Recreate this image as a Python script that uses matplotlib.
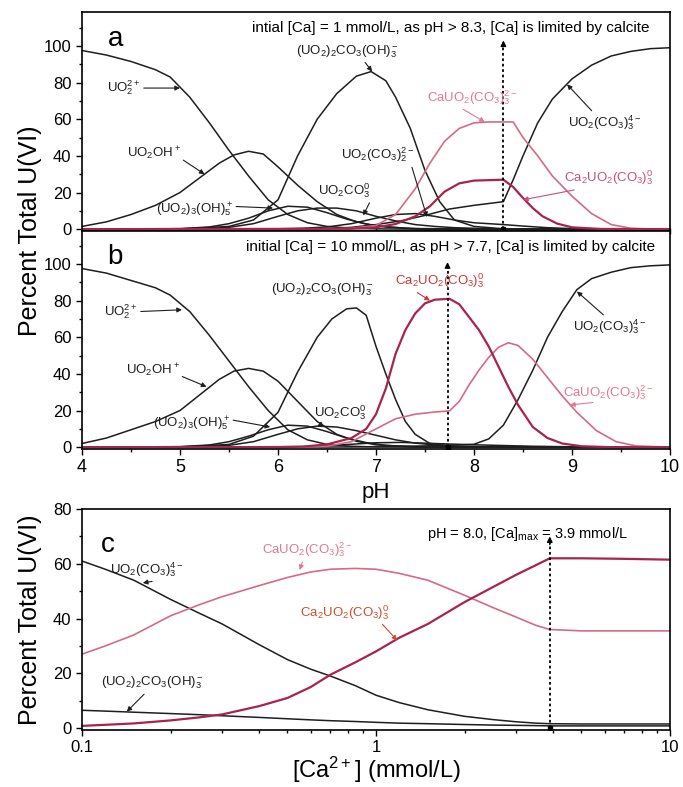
import numpy as np
import matplotlib
matplotlib.use('Agg')
import matplotlib.pyplot as plt
from matplotlib.ticker import MultipleLocator, FixedLocator, NullFormatter, LogLocator

plt.rcParams['font.family'] = ['Liberation Sans', 'DejaVu Sans']
plt.rcParams['mathtext.fontset'] = 'custom'
plt.rcParams['mathtext.rm'] = 'Liberation Sans'
plt.rcParams['mathtext.it'] = 'Liberation Sans:italic'
plt.rcParams['mathtext.bf'] = 'Liberation Sans:bold'

# ---- panel a: initial [Ca] = 1 mmol/L (pH, percent) ----
uo2_a_ph = [4.0, 4.25, 4.5, 4.75, 4.9, 5.1, 5.3, 5.5, 5.7, 5.9, 6.1, 6.3, 6.5, 6.75, 7.0, 7.5, 10]
uo2_a = [97.5, 95, 91.5, 87, 83, 72, 58, 43, 29, 16, 8, 3.5, 1.5, 0.5, 0.15, 0, 0]
uo2oh_a_ph = [4.0, 4.25, 4.5, 4.75, 5.0, 5.2, 5.4, 5.55, 5.7, 5.85, 6.0, 6.2, 6.4, 6.6, 6.8, 7.0, 7.3, 7.6, 10]
uo2oh_a = [1.5, 4, 8, 13, 20, 28, 36, 40.5, 42.5, 41, 34, 24, 15, 8, 4, 1.8, 0.5, 0, 0]
uo23oh5_a_ph = [4.0, 5.0, 5.3, 5.5, 5.7, 5.9, 6.1, 6.3, 6.5, 6.7, 6.9, 7.1, 7.4, 10]
uo23oh5_a = [0, 0.3, 1.2, 3, 6, 10, 12.5, 12, 9, 5.5, 2.8, 1.2, 0.3, 0]
uo22co3oh3_a_ph = [4.0, 5.0, 5.5, 5.75, 6.0, 6.2, 6.4, 6.6, 6.8, 6.95, 7.1, 7.2, 7.35, 7.5, 7.65, 7.8, 8.0, 8.3, 10]
uo22co3oh3_a = [0, 0.1, 1.5, 5, 16, 40, 60, 74, 83.5, 86, 81, 72, 55, 32, 15, 5, 1.5, 0.2, 0]
uo2co3_a_ph = [4.0, 5.25, 5.5, 5.75, 6.0, 6.2, 6.4, 6.6, 6.8, 7.0, 7.2, 7.4, 7.6, 7.8, 8.1, 8.5, 10]
uo2co3_a = [0, 0.3, 1, 3, 7, 10, 11.5, 11.5, 10, 7, 4.5, 2.5, 1.5, 0.8, 0.3, 0, 0]
uo2co32_a_ph = [4.0, 6.0, 6.25, 6.5, 6.75, 7.0, 7.2, 7.4, 7.6, 7.8, 8.0, 8.3, 8.5, 8.75, 9.0, 9.5, 10]
uo2co32_a = [0, 0.2, 0.5, 1.2, 3, 6, 8, 8.5, 7, 5, 3.5, 2.5, 1.7, 0.8, 0.3, 0, 0]
uo2co33_a_ph = [4.0, 6.25, 6.5, 6.75, 7.0, 7.25, 7.5, 7.75, 8.0, 8.3, 8.4, 8.5, 8.65, 8.8, 9.0, 9.2, 9.4, 9.6, 9.8, 10]
uo2co33_a = [0, 0.1, 0.3, 1, 2.5, 4.5, 7.5, 11, 13, 15, 27, 40, 58, 71, 82, 89.5, 94.5, 97, 98.5, 99]
cauo2_a_ph = [4.0, 6.5, 6.75, 7.0, 7.2, 7.4, 7.55, 7.7, 7.85, 8.0, 8.15, 8.4, 8.5, 8.65, 8.8, 9.0, 9.2, 9.4, 9.6, 9.8, 10]
cauo2_a = [0, 0.1, 0.5, 2, 8, 22, 36, 48, 55, 58, 58.5, 58.5, 50, 40, 29, 18, 8.5, 2.5, 0.5, 0.1, 0]
ca2uo2_a_ph = [4.0, 6.75, 7.0, 7.2, 7.4, 7.55, 7.7, 7.85, 8.0, 8.3, 8.4, 8.5, 8.6, 8.7, 8.85, 9.0, 9.3, 10]
ca2uo2_a = [0, 0.2, 1, 2.8, 7, 12.5, 20.5, 25, 26.5, 27, 23, 17, 11.5, 7, 3, 1, 0.1, 0]

# ---- panel b: initial [Ca] = 10 mmol/L ----
uo2_b_ph = [4.0, 4.25, 4.5, 4.75, 4.9, 5.1, 5.3, 5.5, 5.7, 5.9, 6.1, 6.3, 6.5, 6.75, 7.0, 7.5, 10]
uo2_b = [97.5, 95, 91, 87, 83, 74, 61, 47, 33, 20, 9.5, 4, 1.5, 0.5, 0.1, 0, 0]
uo2oh_b_ph = [4.0, 4.25, 4.5, 4.75, 5.0, 5.2, 5.4, 5.55, 5.7, 5.85, 6.0, 6.2, 6.4, 6.6, 6.8, 7.0, 7.3, 7.6, 10]
uo2oh_b = [2, 5, 9.5, 14, 20, 28.5, 37, 41.5, 43, 41.5, 36, 25, 14, 7, 3.2, 1.3, 0.3, 0, 0]
uo23oh5_b_ph = [4.0, 5.0, 5.3, 5.5, 5.7, 5.9, 6.1, 6.3, 6.5, 6.7, 6.9, 7.1, 7.4, 10]
uo23oh5_b = [0, 0.3, 1.2, 3, 6, 9.5, 12, 11.5, 8.5, 5, 2.5, 1, 0.2, 0]
uo22co3oh3_b_ph = [4.0, 5.0, 5.5, 5.75, 6.0, 6.2, 6.4, 6.55, 6.7, 6.8, 6.9, 7.0, 7.1, 7.2, 7.3, 7.4, 7.55, 7.8, 10]
uo22co3oh3_b = [0, 0.1, 1.5, 6, 19, 41, 60, 70, 75.5, 76, 72, 55, 40, 26, 14, 7, 2, 0.3, 0]
uo2co3_b_ph = [4.0, 5.25, 5.5, 5.75, 6.0, 6.2, 6.4, 6.6, 6.8, 7.0, 7.2, 7.4, 7.6, 7.8, 8.1, 8.5, 10]
uo2co3_b = [0, 0.3, 1, 3, 7, 10, 11.5, 11, 9, 6.5, 4, 2.2, 1.2, 0.6, 0.2, 0, 0]
uo2co32_b_ph = [4.0, 6.25, 6.5, 6.75, 7.0, 7.25, 7.5, 7.7, 8.0, 8.3, 8.6, 9.0, 9.5, 10]
uo2co32_b = [0, 0.3, 0.8, 1.6, 2.4, 2.6, 2.2, 1.8, 1.3, 0.9, 0.5, 0.2, 0, 0]
uo2co33_b_ph = [4.0, 6.75, 7.0, 7.5, 7.75, 8.0, 8.15, 8.3, 8.45, 8.6, 8.75, 8.9, 9.05, 9.2, 9.4, 9.6, 9.8, 10]
uo2co33_b = [0, 0.1, 0.3, 0.7, 1, 1.6, 4.5, 12, 26, 42, 60, 74, 86, 92, 95.5, 98, 99, 99.5]
cauo2_b_ph = [4.0, 6.25, 6.5, 6.75, 7.0, 7.2, 7.4, 7.6, 7.75, 7.85, 7.95, 8.05, 8.15, 8.25, 8.35,
              8.45, 8.6, 8.75, 8.9, 9.05, 9.25, 9.45, 9.65, 10]
cauo2_b = [0, 0.1, 0.5, 3, 10, 15.5, 18, 19.2, 19.8, 25, 34, 42, 49, 54.5, 57,
           55.5, 48, 38, 28, 19, 9, 3, 0.7, 0]
ca2uo2_b_ph = [4.0, 6.0, 6.25, 6.5, 6.75, 6.9, 7.0, 7.1, 7.2, 7.3, 7.4, 7.5, 7.6, 7.75, 7.85,
               7.95, 8.05, 8.15, 8.25, 8.35, 8.45, 8.6, 8.75, 8.9, 9.1, 9.4, 10]
ca2uo2_b = [0, 0, 0.3, 1.5, 5, 10, 18, 32, 51, 64, 73, 78.5, 80.5, 81, 78,
            71, 64, 55, 44, 33, 23, 11, 5, 2, 0.5, 0, 0]

# ---- panel c: pH 8.0, varying [Ca2+] (mmol/L) ----
ca_c = [0.1, 0.12, 0.15, 0.2, 0.25, 0.3, 0.4, 0.5, 0.6, 0.7, 0.85, 1.0, 1.2, 1.5, 2.0,
        2.5, 3.0, 3.5, 3.9, 5.0, 7.0, 10.0]
uo2co33_c = [61, 58, 54, 47, 42, 38, 30.5, 25, 21.5, 19, 15.5, 12, 9.3, 6.7, 4.3,
             3.1, 2.3, 1.8, 1.6, 1.5, 1.5, 1.5]
uo22co3oh3_c = [6.5, 6.2, 5.8, 5.3, 4.9, 4.5, 3.9, 3.4, 3.0, 2.7, 2.4, 2.1, 1.8, 1.6, 1.3,
                1.1, 1.0, 0.9, 0.8, 0.8, 0.8, 0.8]
cauo2_c = [27, 30, 34, 41, 45, 48, 52, 55, 57, 58, 58.3, 58, 56.5, 54, 48.5,
           44, 40.5, 37.5, 36, 35.5, 35.5, 35.5]
ca2uo2_c = [0.8, 1.2, 1.7, 2.8, 3.9, 5, 8, 11, 15, 19.5, 24, 28, 33, 38, 46,
            51.5, 56, 59.5, 62, 62, 61.8, 61.5]

BLACK = '#1e1e1e'
PINK = '#d46a88'
DRED = '#a8244c'
PINK_TXT = '#e07a94'

L_UO2 = r'UO$_2^{2+}$'
L_UO2OH = r'UO$_2$OH$^+$'
L_UO23 = r'(UO$_2$)$_3$(OH)$_5^+$'
L_UO22 = r'(UO$_2$)$_2$CO$_3$(OH)$_3^-$'
L_UO2CO3 = r'UO$_2$CO$_3^0$'
L_CO32 = r'UO$_2$(CO$_3$)$_2^{2-}$'
L_CO33 = r'UO$_2$(CO$_3$)$_3^{4-}$'
L_CAU = r'CaUO$_2$(CO$_3$)$_3^{2-}$'
L_CA2U = r'Ca$_2$UO$_2$(CO$_3$)$_3^0$'


def lab(ax, text, xytext, xy=None, color=BLACK, rel=(0.5, 0.5), fs=9.5):
    if xy is None:
        ax.text(xytext[0], xytext[1], text, color=color, fontsize=fs,
                ha='center', va='center')
        return
    ax.annotate(text, xy=xy, xytext=xytext, color=color, fontsize=fs,
                ha='center', va='center',
                arrowprops=dict(arrowstyle='-|>', color=color, lw=0.8,
                                mutation_scale=7, shrinkA=0, shrinkB=0,
                                relpos=rel))


def limit_line(ax, x, ytop):
    ax.plot([x, x], [0, ytop], ls=(0, (1.5, 1.5)), color='k', lw=1.3)
    ax.annotate('', xy=(x, ytop + 2), xytext=(x, ytop - 1),
                arrowprops=dict(arrowstyle='-|>', color='k', lw=1,
                                mutation_scale=8, shrinkA=0, shrinkB=0))
    ax.plot([x], [0], 's', color='k', ms=3)


def style(ax):
    for s in ax.spines.values():
        s.set_linewidth(1.2)
    ax.tick_params(which='both', direction='out', labelsize=12, width=1)
    ax.tick_params(which='major', length=4)
    ax.tick_params(which='minor', length=2.5)


fig = plt.figure(figsize=(6.83, 7.87), dpi=100)
W, H = 683.0, 787.0
left = 82 / W
wid = (670 - 82) / W
ax_a = fig.add_axes([left, 1 - 231 / H, wid, (231 - 12) / H])
ax_b = fig.add_axes([left, 1 - 449 / H, wid, (449 - 231) / H])
ax_c = fig.add_axes([left, 1 - 730 / H, wid, (730 - 509) / H])

# panel a
ax = ax_a
for xs, ys, c, lw in [(uo2_a_ph, uo2_a, BLACK, 1.1), (uo2oh_a_ph, uo2oh_a, BLACK, 1.1),
                      (uo23oh5_a_ph, uo23oh5_a, BLACK, 1.1),
                      (uo22co3oh3_a_ph, uo22co3oh3_a, BLACK, 1.1),
                      (uo2co3_a_ph, uo2co3_a, BLACK, 1.1),
                      (uo2co32_a_ph, uo2co32_a, BLACK, 1.1),
                      (uo2co33_a_ph, uo2co33_a, BLACK, 1.1),
                      (cauo2_a_ph, cauo2_a, PINK, 1.2), (ca2uo2_a_ph, ca2uo2_a, DRED, 1.6)]:
    ax.plot(xs, ys, color=c, lw=lw)
limit_line(ax, 8.3, 101)
ax.set_xlim(4, 10)
ax.set_ylim(-1, 118.5)
ax.text(4.34, 104, 'a', fontsize=20, ha='center', va='center')
ax.text(7.76, 110, 'intial [Ca] = 1 mmol/L, as pH > 8.3, [Ca] is limited by calcite',
        fontsize=11, ha='center', va='center')
lab(ax, L_UO2, (4.43, 77), (5.0, 77), rel=(1, 0.5))
lab(ax, L_UO2OH, (4.73, 41.5), (5.25, 30), rel=(1, 0.2))
lab(ax, L_UO23, (5.15, 10.4), (5.95, 11.5), rel=(1, 0.7))
lab(ax, L_UO22, (6.71, 97), (6.96, 86), rel=(0.65, 0))
lab(ax, L_UO2CO3, (6.68, 21), (6.87, 7.5), rel=(1, 0))
lab(ax, L_CO32, (7.02, 40.4), (7.52, 6.6), rel=(0.95, 0))
lab(ax, L_CAU, (7.98, 72), (8.11, 58.5), color=PINK_TXT, rel=(0.35, 0))
lab(ax, L_CO33, (9.34, 58), (8.95, 79), rel=(0.35, 1))
lab(ax, L_CA2U, (9.37, 28), (8.5, 16), color='#c8507a', rel=(0.28, 0))
ax.xaxis.set_major_locator(MultipleLocator(1))
ax.xaxis.set_minor_locator(MultipleLocator(0.5))
ax.yaxis.set_major_locator(FixedLocator([0, 20, 40, 60, 80, 100]))
ax.yaxis.set_minor_locator(MultipleLocator(10))
style(ax)
ax.tick_params(axis='x', which='both', direction='inout', labelbottom=False)

# panel b
ax = ax_b
for xs, ys, c, lw in [(uo2_b_ph, uo2_b, BLACK, 1.1), (uo2oh_b_ph, uo2oh_b, BLACK, 1.1),
                      (uo23oh5_b_ph, uo23oh5_b, BLACK, 1.1),
                      (uo22co3oh3_b_ph, uo22co3oh3_b, BLACK, 1.1),
                      (uo2co3_b_ph, uo2co3_b, BLACK, 1.1),
                      (uo2co32_b_ph, uo2co32_b, BLACK, 1.1),
                      (uo2co33_b_ph, uo2co33_b, BLACK, 1.1),
                      (cauo2_b_ph, cauo2_b, PINK, 1.2), (ca2uo2_b_ph, ca2uo2_b, DRED, 1.6)]:
    ax.plot(xs, ys, color=c, lw=lw)
limit_line(ax, 7.73, 99)
ax.set_xlim(4, 10)
ax.set_ylim(-1, 118)
ax.text(4.34, 104, 'b', fontsize=20, ha='center', va='center')
ax.text(7.76, 109, 'initial [Ca] = 10 mmol/L, as pH > 7.7, [Ca] is limited by calcite',
        fontsize=11, ha='center', va='center')
lab(ax, L_UO2, (4.4, 74), (5.02, 75), rel=(1, 0.5))
lab(ax, L_UO2OH, (4.72, 42), (5.27, 33), rel=(1, 0.2))
lab(ax, L_UO23, (5.12, 13), (5.92, 11), rel=(1, 0.7))
lab(ax, L_UO22, (6.45, 86))
lab(ax, L_UO2CO3, (6.63, 19), (6.40, 11.5), rel=(0.25, 0))
lab(ax, L_CA2U, (7.65, 91), (7.55, 80), color='#c83838', rel=(0.2, 0))
lab(ax, L_CO33, (9.39, 65.6), (9.05, 85), rel=(0.45, 1))
lab(ax, L_CAU, (9.37, 29.5), (8.98, 23), color=PINK_TXT, rel=(0.33, 0))
ax.xaxis.set_major_locator(MultipleLocator(1))
ax.xaxis.set_minor_locator(MultipleLocator(0.5))
ax.yaxis.set_major_locator(FixedLocator([0, 20, 40, 60, 80, 100]))
ax.yaxis.set_minor_locator(MultipleLocator(10))
style(ax)
ax.tick_params(axis='x', labelsize=13)

# panel c
ax = ax_c
ax.set_xscale('log')
ax.plot(ca_c, uo2co33_c, color=BLACK, lw=1.1)
ax.plot(ca_c, uo22co3oh3_c, color=BLACK, lw=1.1)
ax.plot(ca_c, cauo2_c, color=PINK, lw=1.2)
ax.plot(ca_c, ca2uo2_c, color=DRED, lw=1.6)
limit_line(ax, 3.9, 68)
ax.set_xlim(0.1, 10)
ax.set_ylim(-0.7, 80)
ax.text(0.122, 67, 'c', fontsize=20, ha='center', va='center')
ax.text(3.27, 71, r'pH = 8.0, [Ca]$_{\rm max}$ = 3.9 mmol/L', fontsize=10.5,
        ha='center', va='center')
lab(ax, L_CO33, (0.166, 58), (0.161, 53), rel=(0.95, 0.1))
lab(ax, L_UO22, (0.173, 16.4), (0.142, 6.0), rel=(0.45, 0))
lab(ax, L_CAU, (0.586, 65), (0.55, 57.7), color=PINK_TXT, rel=(0.45, 0))
lab(ax, L_CA2U, (0.78, 42.3), (1.18, 32), color='#c85030', rel=(0.9, 0))
ax.xaxis.set_major_locator(FixedLocator([0.1, 1, 10]))
ax.set_xticklabels(['0.1', '1', '10'])
ax.xaxis.set_minor_locator(LogLocator(base=10, subs=np.arange(2, 10)))
ax.xaxis.set_minor_formatter(NullFormatter())
ax.yaxis.set_major_locator(FixedLocator([0, 20, 40, 60, 80]))
ax.yaxis.set_minor_locator(MultipleLocator(10))
style(ax)

fig.text(0.044, 1 - 231 / H, 'Percent Total U(VI)', rotation=90, fontsize=18,
         ha='center', va='center')
fig.text(0.044, 1 - 620 / H, 'Percent Total U(VI)', rotation=90, fontsize=18,
         ha='center', va='center')
fig.text(376 / W, 1 - 493 / H, 'pH', fontsize=16, ha='center', va='center')
fig.text(376 / W, 1 - 770 / H, r'[Ca$^{2+}$] (mmol/L)', fontsize=17,
         ha='center', va='center')

fig.savefig('out.png', dpi=100)
